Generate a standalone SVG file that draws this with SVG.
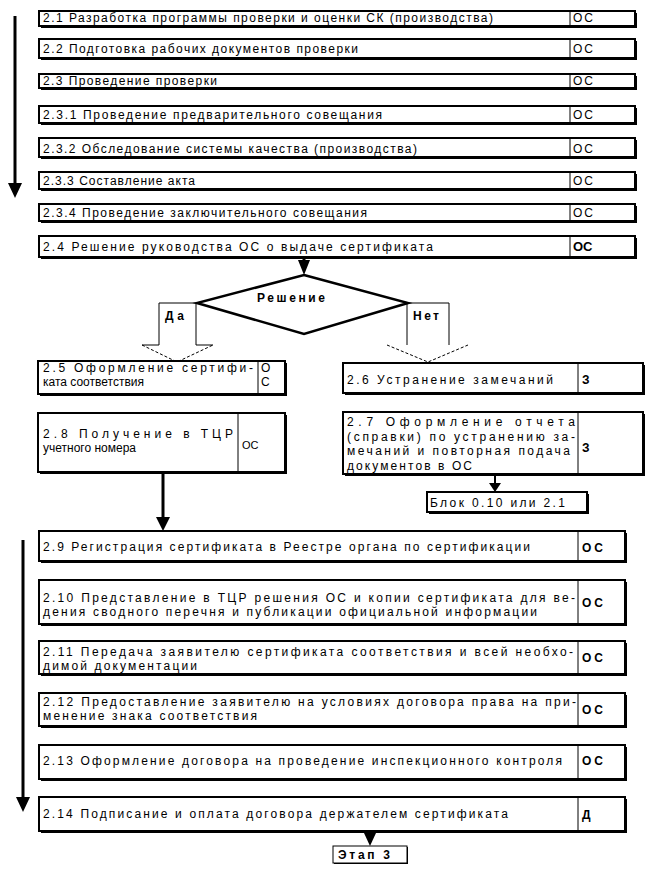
<svg xmlns="http://www.w3.org/2000/svg" width="670" height="878" viewBox="0 0 670 878">
<style>
.sh{fill:#000}
.box{fill:#fff;stroke:#000;stroke-width:2}
.thin{fill:#fff;stroke:#000;stroke-width:1}
.dv{stroke:#000;stroke-width:1}
.t{font-family:"Liberation Sans",Arial,sans-serif;font-size:12px;fill:#000}
.s{font-size:11px}
.b{font-weight:bold}
.ln{stroke:#000;stroke-width:3;fill:none}
.ln2{stroke:#000;stroke-width:2;fill:none}
.ah{fill:#000}
.ol{stroke:#000;stroke-width:1;fill:none}
.ds{stroke:#000;stroke-width:1;fill:none;stroke-dasharray:3 2}
.dm{fill:#fff;stroke:#000;stroke-width:2.5}
</style>
<rect width="670" height="878" fill="#fff"/>

<g id="connectors">
  <line class="ln" x1="15" y1="16" x2="15" y2="185"/>
  <polygon class="ah" points="8,183 22,183 15,198"/>
  <line class="ln" x1="23" y1="540" x2="23" y2="798"/>
  <polygon class="ah" points="16,797 30,797 23,812"/>
  <line class="ln" x1="304" y1="258" x2="304" y2="262"/>
  <polygon class="ah" points="298,260 310,260 304,275"/>
  <line class="ln" x1="163" y1="473" x2="163" y2="518"/>
  <polygon class="ah" points="156,517 170,517 163,531"/>
  <line class="ln2" x1="495" y1="475" x2="495" y2="484"/>
  <polygon class="ah" points="489,483 501,483 495,492"/>
  <line class="ln2" x1="370" y1="832" x2="370" y2="835"/>
  <polygon class="ah" points="364,833 376,833 370,846"/>
  <!-- Да block arrow -->
  <polyline class="ol" points="142,345 159,345 159,303 197,303"/>
  <polyline class="ol" points="196,303 196,345 213,345"/>
  <polyline class="ds" points="142,345 177,362 213,345"/>
  <!-- Нет block arrow -->
  <polyline class="ol" points="407,345 407,303 449,303 449,345"/>
  <polyline class="ds" points="387,345 428,362 468,345"/>
</g>

<g id="decision">
  <polygon class="dm" points="304,275 408,303 304,334 197,303"/>
  <text class="t b" x="257" y="302" textLength="68" lengthAdjust="spacing">Решение</text>
</g>
<g id="label_yes"><text class="t b" x="165" y="320" textLength="19" lengthAdjust="spacing">Да</text></g>
<g id="label_no"><text class="t b" x="413" y="320" textLength="26" lengthAdjust="spacing">Нет</text></g>

<g id="n2_1">
  <rect class="sh" x="41" y="13" width="596" height="15"/>
  <rect class="box" x="39" y="11" width="596" height="15"/>
  <line class="dv" x1="570" y1="11" x2="570" y2="26"/>
  <text class="t" x="43" y="22" textLength="450" lengthAdjust="spacing">2.1 Разработка программы проверки и оценки СК (производства)</text>
  <text class="t" x="573" y="22" textLength="20" lengthAdjust="spacing">ОС</text>
</g>
<g id="n2_2">
  <rect class="sh" x="41" y="41" width="596" height="19"/>
  <rect class="box" x="39" y="39" width="596" height="19"/>
  <line class="dv" x1="570" y1="39" x2="570" y2="58"/>
  <text class="t" x="43" y="53" textLength="315" lengthAdjust="spacing">2.2 Подготовка рабочих документов проверки</text>
  <text class="t" x="573" y="53" textLength="20" lengthAdjust="spacing">ОС</text>
</g>
<g id="n2_3">
  <rect class="sh" x="41" y="76" width="596" height="14"/>
  <rect class="box" x="39" y="74" width="596" height="14"/>
  <line class="dv" x1="570" y1="74" x2="570" y2="88"/>
  <text class="t" x="43" y="85" textLength="174" lengthAdjust="spacing">2.3 Проведение проверки</text>
  <text class="t" x="573" y="85" textLength="20" lengthAdjust="spacing">ОС</text>
</g>
<g id="n2_3_1">
  <rect class="sh" x="41" y="108" width="596" height="17"/>
  <rect class="box" x="39" y="106" width="596" height="17"/>
  <line class="dv" x1="570" y1="106" x2="570" y2="123"/>
  <text class="t" x="43" y="119" textLength="339" lengthAdjust="spacing">2.3.1 Проведение предварительного совещания</text>
  <text class="t" x="573" y="119" textLength="20" lengthAdjust="spacing">ОС</text>
</g>
<g id="n2_3_2">
  <rect class="sh" x="41" y="140" width="596" height="19"/>
  <rect class="box" x="39" y="138" width="596" height="19"/>
  <line class="dv" x1="570" y1="138" x2="570" y2="157"/>
  <text class="t" x="43" y="153" textLength="374" lengthAdjust="spacing">2.3.2 Обследование системы качества (производства)</text>
  <text class="t" x="573" y="153" textLength="20" lengthAdjust="spacing">ОС</text>
</g>
<g id="n2_3_3">
  <rect class="sh" x="41" y="174" width="596" height="17"/>
  <rect class="box" x="39" y="172" width="596" height="17"/>
  <line class="dv" x1="570" y1="172" x2="570" y2="189"/>
  <text class="t" x="43" y="185" textLength="152" lengthAdjust="spacing">2.3.3 Составление акта</text>
  <text class="t" x="573" y="185" textLength="20" lengthAdjust="spacing">ОС</text>
</g>
<g id="n2_3_4">
  <rect class="sh" x="41" y="206" width="596" height="17"/>
  <rect class="box" x="39" y="204" width="596" height="17"/>
  <line class="dv" x1="570" y1="204" x2="570" y2="221"/>
  <text class="t" x="43" y="217" textLength="324" lengthAdjust="spacing">2.3.4 Проведение заключительного совещания</text>
  <text class="t" x="573" y="217" textLength="20" lengthAdjust="spacing">ОС</text>
</g>
<g id="n2_4">
  <rect class="sh" x="41" y="238" width="596" height="21"/>
  <rect class="box" x="39" y="236" width="596" height="21"/>
  <line class="dv" x1="570" y1="236" x2="570" y2="257"/>
  <text class="t" x="43" y="251" textLength="390" lengthAdjust="spacing">2.4 Решение руководства ОС о выдаче сертификата</text>
  <text class="t b" x="573" y="251" style="font-size:13px">ОС</text>
</g>

<g id="n2_5">
  <rect class="sh" x="40" y="363" width="247" height="33"/>
  <rect class="box" x="38" y="361" width="247" height="33"/>
  <line class="dv" x1="258" y1="361" x2="258" y2="394"/>
  <text class="t" x="43" y="372" textLength="210" lengthAdjust="spacing">2.5 Оформление сертифи-</text>
  <text class="t" x="43" y="386">ката соответствия</text>
  <text class="t" x="261" y="372">О</text>
  <text class="t" x="261" y="386">С</text>
</g>
<g id="n2_8">
  <rect class="sh" x="40" y="415" width="247" height="59"/>
  <rect class="box" x="38" y="413" width="247" height="59"/>
  <line class="dv" x1="238" y1="413" x2="238" y2="472"/>
  <text class="t" x="43" y="438" textLength="190" lengthAdjust="spacing">2.8 Получение в ТЦР</text>
  <text class="t" x="43" y="452">учетного номера</text>
  <text class="t s" x="242" y="449">ОС</text>
</g>
<g id="n2_6">
  <rect class="sh" x="345" y="365" width="300" height="30"/>
  <rect class="box" x="343" y="363" width="300" height="30"/>
  <line class="dv" x1="578" y1="363" x2="578" y2="393"/>
  <text class="t" x="347" y="384" textLength="206" lengthAdjust="spacing">2.6 Устранение замечаний</text>
  <text class="t b" x="582" y="384">З</text>
</g>
<g id="n2_7">
  <rect class="sh" x="345" y="414" width="300" height="62"/>
  <rect class="box" x="343" y="412" width="300" height="62"/>
  <line class="dv" x1="578" y1="412" x2="578" y2="474"/>
  <text class="t" x="347" y="426" textLength="228" lengthAdjust="spacing">2.7 Оформление отчета</text>
  <text class="t" x="347" y="441" textLength="228" lengthAdjust="spacing">(справки) по устранению за-</text>
  <text class="t" x="347" y="455" textLength="223" lengthAdjust="spacing">мечаний и повторная подача</text>
  <text class="t" x="347" y="470" textLength="125" lengthAdjust="spacing">документов в ОС</text>
  <text class="t b" x="582" y="452">З</text>
</g>
<g id="block_ref">
  <rect class="sh" x="429" y="494" width="160" height="20"/>
  <rect class="box" x="427" y="492" width="160" height="20"/>
  <text class="t" x="430" y="507" textLength="135" lengthAdjust="spacing">Блок 0.10 или 2.1</text>
</g>

<g id="n2_9">
  <rect class="sh" x="41" y="533" width="586" height="30"/>
  <rect class="box" x="39" y="531" width="586" height="30"/>
  <line class="dv" x1="578" y1="531" x2="578" y2="561"/>
  <text class="t" x="43" y="551" textLength="487" lengthAdjust="spacing">2.9 Регистрация сертификата в Реестре органа по сертификации</text>
  <text class="t b" x="582" y="552" textLength="21" lengthAdjust="spacing">ОС</text>
</g>
<g id="n2_10">
  <rect class="sh" x="41" y="582" width="586" height="44"/>
  <rect class="box" x="39" y="580" width="586" height="44"/>
  <line class="dv" x1="578" y1="580" x2="578" y2="624"/>
  <text class="t" x="43" y="602" textLength="532" lengthAdjust="spacing">2.10 Представление в ТЦР решения ОС и копии сертификата для ве-</text>
  <text class="t" x="43" y="616" textLength="494" lengthAdjust="spacing">дения сводного перечня и публикации официальной информации</text>
  <text class="t b" x="582" y="607" textLength="21" lengthAdjust="spacing">ОС</text>
</g>
<g id="n2_11">
  <rect class="sh" x="41" y="643" width="586" height="33"/>
  <rect class="box" x="39" y="641" width="586" height="33"/>
  <line class="dv" x1="578" y1="641" x2="578" y2="674"/>
  <text class="t" x="43" y="656" textLength="530" lengthAdjust="spacing">2.11 Передача заявителю сертификата соответствия и всей необхо-</text>
  <text class="t" x="43" y="670" textLength="154" lengthAdjust="spacing">димой документации</text>
  <text class="t b" x="582" y="662" textLength="21" lengthAdjust="spacing">ОС</text>
</g>
<g id="n2_12">
  <rect class="sh" x="41" y="695" width="586" height="33"/>
  <rect class="box" x="39" y="693" width="586" height="33"/>
  <line class="dv" x1="578" y1="693" x2="578" y2="726"/>
  <text class="t" x="43" y="706" textLength="533" lengthAdjust="spacing">2.12 Предоставление заявителю на условиях договора права на при-</text>
  <text class="t" x="43" y="720" textLength="214" lengthAdjust="spacing">менение знака соответствия</text>
  <text class="t b" x="582" y="714" textLength="21" lengthAdjust="spacing">ОС</text>
</g>
<g id="n2_13">
  <rect class="sh" x="41" y="747" width="586" height="34"/>
  <rect class="box" x="39" y="745" width="586" height="34"/>
  <line class="dv" x1="578" y1="745" x2="578" y2="779"/>
  <text class="t" x="43" y="765" textLength="519" lengthAdjust="spacing">2.13 Оформление договора на проведение инспекционного контроля</text>
  <text class="t b" x="582" y="765" textLength="21" lengthAdjust="spacing">ОС</text>
</g>
<g id="n2_14">
  <rect class="sh" x="41" y="799" width="586" height="34"/>
  <rect class="box" x="39" y="797" width="586" height="34"/>
  <line class="dv" x1="578" y1="797" x2="578" y2="831"/>
  <text class="t" x="43" y="818" textLength="465" lengthAdjust="spacing">2.14 Подписание и оплата договора держателем сертификата</text>
  <text class="t b" x="582" y="819">Д</text>
</g>
<g id="stage3">
  <rect class="sh" x="334" y="847" width="74" height="17"/>
  <rect class="thin" x="333" y="846" width="74" height="17"/>
  <text class="t b" x="338" y="859" textLength="52" lengthAdjust="spacing">Этап 3</text>
</g>
</svg>
